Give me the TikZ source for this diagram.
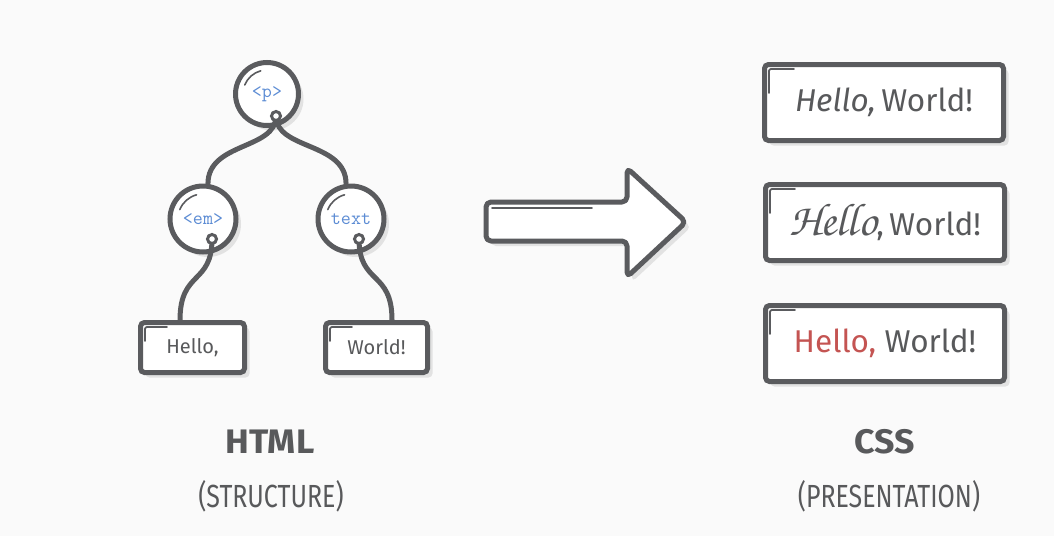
\documentclass[tikz,border=0pt]{standalone}
\usepackage{fontspec}
\setmainfont{Fira Sans}
\newfontfamily\scriptf{TeX Gyre Chorus}
\newfontfamily\labf{Fira Sans}[FakeStretch=0.78]
\newfontfamily\headf{Fira Sans}[FakeStretch=1.05]
\usetikzlibrary{shadows,calc}
\definecolor{bgc}{RGB}{250,250,250}
\definecolor{dk}{RGB}{90,91,94}
\definecolor{txt}{RGB}{88,89,91}
\definecolor{tagblue}{RGB}{92,140,212}
\definecolor{redc}{RGB}{196,84,82}
\definecolor{shad}{RGB}{226,226,226}
\tikzset{
  shd/.style={drop shadow={shadow xshift=5pt,shadow yshift=-5pt,fill=shad,opacity=1}},
  tagnode/.style={circle,draw=dk,line width=5pt,fill=white,inner sep=0pt,
     minimum size=#1,shd,font=\ttfamily\fontsize{19.5}{21}\selectfont,text=tagblue},
  leafbox/.style={rectangle,rounded corners=4pt,draw=dk,line width=5pt,fill=white,
     minimum width=104pt,minimum height=50pt,shd,font=\fontsize{20}{22}\selectfont,text=txt},
  cssbox/.style={rectangle,rounded corners=4pt,draw=dk,line width=5pt,fill=white,
     minimum width=239pt,minimum height=76pt,shd,font=\fontsize{31.5}{34}\selectfont,text=txt},
  conn/.style={draw=dk,line width=5pt},
  port/.style={circle,draw=dk,line width=3pt,fill=white,inner sep=0pt,minimum size=9pt},
  hl/.style={draw=dk,line width=1.8pt,line cap=round,rounded corners=2pt},
  hlarc/.style={draw=dk,line width=1.6pt,line cap=round},
  lab/.style={text=txt,font=\headf\fontsize{34}{36}\bfseries\selectfont},
  sublab/.style={text=txt,font=\labf\fontsize{32}{34}\selectfont},
}
\begin{document}
\begin{tikzpicture}[x=1pt,y=-1pt]
\useasboundingbox[fill=bgc] (0,0) rectangle (1054,536);

% tree nodes
\node[tagnode=63pt] (p) at (267,94) {<p>};
\node[tagnode=66pt] (em) at (203,219) {<em>};
\node[tagnode=66pt] (tx) at (351,219) {text};
\node[leafbox] (hello) at (192.5,347.5) {\raisebox{-4pt}{Hello,}};
\node[leafbox,minimum width=102pt] (world) at (376.5,347.5) {\raisebox{-4pt}{World!}};

% highlight arcs in circles
\draw[hlarc] ($(p.center)+(-22.3,-9)$) arc[start angle=158,end angle=105,radius=24pt];
\draw[hlarc] ($(em.center)+(-23.2,-9.4)$) arc[start angle=158,end angle=105,radius=25pt];
\draw[hlarc] ($(tx.center)+(-23.2,-9.4)$) arc[start angle=158,end angle=105,radius=25pt];

% corner marks
\draw[hl] ($(hello.north west)+(7,21)$) -- ++(0,-14) -- ++(22,0);
\draw[hl] ($(world.north west)+(7,21)$) -- ++(0,-14) -- ++(22,0);

% ports
\coordinate (pp) at (276,116);
\coordinate (emp) at (212,239);
\coordinate (txp) at (359,239);

% connectors
\draw[conn] (pp) .. controls +(0,34) and +(0,-42) .. (em.82);
\draw[conn] (pp) .. controls +(0,34) and +(0,-42) .. (tx.98);
\draw[conn] (emp) .. controls +(0,46) and +(0,-50) .. ([xshift=-12.5pt]hello.north);
\draw[conn] (txp) .. controls +(0,46) and +(0,-50) .. ([xshift=15.5pt]world.north);

\node[port] (pport) at (pp) {};
\node[port] (emport) at (emp) {};
\node[port] (txport) at (txp) {};

% big arrow
\fill[shad,rounded corners=5pt] (491,207) -- (632,207) -- (632,173) -- (691,227) -- (632,282) -- (632,246) -- (491,246) -- cycle;
\filldraw[fill=white,draw=dk,line width=5pt,rounded corners=5pt,line join=round]
  (486,202) -- (627,202) -- (627,168) -- (686,222) -- (627,277) -- (627,241) -- (486,241) -- cycle;
\draw[hlarc] (492,208) -- (592,208);

% css boxes
\node[cssbox] (c1) at (884,102.5) {\textit{Hello,}\,World!};
\node[cssbox] (c2) at (885,222.5) {{\scriptf\fontsize{46}{48}\selectfont Hello},\,World!};
\node[cssbox] (c3) at (885,343.5) {\textcolor{redc}{Hello,} World!};
\draw[hl] ($(c1.north west)+(7,31)$) -- ++(0,-24) -- ++(25,0);
\draw[hl] ($(c2.north west)+(7,31)$) -- ++(0,-24) -- ++(25,0);
\draw[hl] ($(c3.north west)+(7,31)$) -- ++(0,-24) -- ++(25,0);

% labels
\node[lab] (html) at (270,442) {HTML};
\node[sublab] (struct) at (271,496) {(STRUCTURE)};
\node[lab] (css) at (885,442) {CSS};
\node[sublab] (pres) at (889,496) {(PRESENTATION)};
\end{tikzpicture}
\end{document}
